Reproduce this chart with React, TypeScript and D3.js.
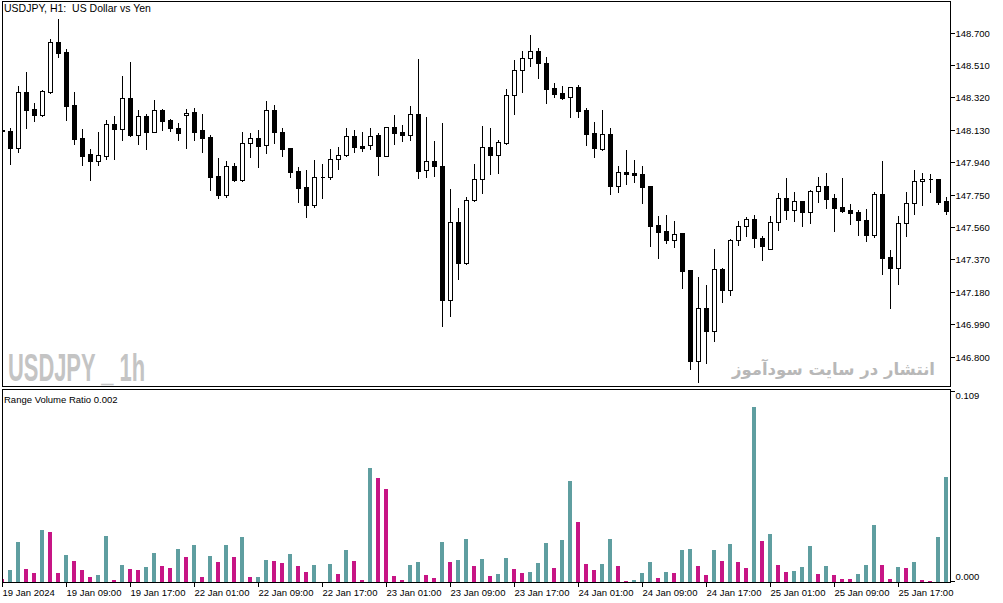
import * as d3 from "d3";

// USDJPY H1, 19 Jan 2024 01:00 .. 25 Jan 2024 23:00 (first bar is cut by the frame)
const opens = [
  148.132, 148.124, 148.026, 148.352, 148.253, 148.219, 148.354, 148.644, 148.587, 148.274,
  148.083, 147.987, 147.949, 147.979, 148.163, 148.137, 148.315, 148.102, 148.21, 148.12,
  148.245, 148.186, 148.139, 148.216, 148.233, 148.128, 148.087, 147.858, 147.75, 147.917,
  147.838, 148.051, 148.081, 148.04, 148.245, 148.116, 148.024, 147.889, 147.793, 147.691,
  147.852, 147.852, 147.958, 147.985, 148.093, 148.036, 148.04, 148.098, 147.979, 148.145,
  148.118, 148.102, 148.222, 147.893, 147.946, 147.917, 147.131, 147.588, 147.351, 147.717,
  147.84, 148.028, 147.985, 148.055, 148.333, 148.48, 148.55, 148.591, 148.521, 148.374,
  148.345, 148.321, 148.38, 148.245, 148.11, 148.016, 148.104, 147.803, 147.881, 147.876,
  147.87, 147.801, 147.572, 147.537, 147.486, 147.525, 147.31, 146.777, 147.084, 146.953,
  147.313, 147.193, 147.483, 147.565, 147.606, 147.494, 147.433, 147.588, 147.729, 147.662,
  147.711, 147.65, 147.77, 147.801, 147.729, 147.676, 147.66, 147.649, 147.6, 147.515,
  147.756, 147.383, 147.322, 147.582, 147.7, 147.829, 147.84, 147.84, 147.711,
];
const highs = [
  148.147, 148.145, 148.393, 148.475, 148.294, 148.368, 148.667, 148.786, 148.61, 148.358,
  148.143, 148.026, 148.124, 148.194, 148.217, 148.452, 148.534, 148.253, 148.227, 148.31,
  148.258, 148.202, 148.176, 148.258, 148.264, 148.229, 148.106, 147.971, 147.952, 147.942,
  148.124, 148.118, 148.135, 148.305, 148.282, 148.147, 148.03, 147.918, 147.901, 147.959,
  147.936, 148.024, 148.036, 148.147, 148.135, 148.124, 148.147, 148.116, 148.151, 148.223,
  148.165, 148.276, 148.552, 148.212, 148.071, 148.176, 147.789, 147.678, 147.742, 147.936,
  148.159, 148.145, 148.077, 148.374, 148.544, 148.597, 148.692, 148.614, 148.563, 148.411,
  148.393, 148.382, 148.397, 148.263, 148.18, 148.253, 148.145, 147.924, 148.018, 147.959,
  147.924, 147.803, 147.631, 147.637, 147.6, 147.527, 147.312, 147.272, 147.226, 147.436,
  147.324, 147.494, 147.6, 147.623, 147.637, 147.515, 147.629, 147.764, 147.854, 147.77,
  147.717, 147.782, 147.86, 147.883, 147.758, 147.854, 147.703, 147.666, 147.674, 147.774,
  147.954, 147.433, 147.629, 147.77, 147.901, 147.881, 147.877, 147.842, 147.742,
];
const lows = [
  148.112, 147.93, 148.002, 148.143, 148.184, 148.213, 148.348, 148.559, 148.19, 148.049,
  147.926, 147.836, 147.926, 147.961, 147.961, 148.073, 148.094, 148.049, 148.018, 148.118,
  148.129, 148.124, 148.071, 148.026, 148.071, 148.002, 147.778, 147.732, 147.738, 147.832,
  147.832, 147.971, 147.912, 147.995, 148.053, 147.977, 147.856, 147.709, 147.621, 147.68,
  147.732, 147.844, 147.903, 147.979, 148.002, 148.008, 148.02, 147.867, 147.977, 148.049,
  148.067, 148.073, 147.85, 147.856, 147.861, 146.982, 147.041, 147.257, 147.345, 147.715,
  147.762, 147.873, 147.879, 148.049, 148.223, 148.354, 148.506, 148.436, 148.29, 148.325,
  148.313, 148.207, 148.207, 148.043, 147.973, 148.01, 147.752, 147.768, 147.815, 147.826,
  147.703, 147.451, 147.381, 147.469, 147.445, 147.205, 146.728, 146.653, 146.765, 146.894,
  147.123, 147.162, 147.457, 147.51, 147.445, 147.369, 147.431, 147.545, 147.609, 147.598,
  147.568, 147.586, 147.709, 147.674, 147.539, 147.65, 147.58, 147.515, 147.477, 147.504,
  147.287, 147.087, 147.228, 147.51, 147.635, 147.691, 147.768, 147.694, 147.639,
];
const closes = [
  148.124, 148.026, 148.352, 148.248, 148.219, 148.358, 148.644, 148.583, 148.272, 148.078,
  147.979, 147.949, 147.981, 148.163, 148.137, 148.315, 148.098, 148.21, 148.12, 148.245,
  148.184, 148.139, 148.114, 148.229, 148.12, 148.084, 147.856, 147.75, 147.917, 147.838,
  148.051, 148.081, 148.037, 148.245, 148.116, 148.02, 147.885, 147.791, 147.691, 147.852,
  147.852, 147.958, 147.981, 148.093, 148.032, 148.026, 148.093, 147.979, 148.145, 148.114,
  148.102, 148.222, 147.891, 147.946, 147.92, 147.134, 147.588, 147.351, 147.717, 147.84,
  148.028, 147.985, 148.057, 148.333, 148.48, 148.55, 148.591, 148.521, 148.372, 148.342,
  148.319, 148.38, 148.243, 148.108, 148.022, 148.104, 147.803, 147.881, 147.873, 147.867,
  147.797, 147.568, 147.533, 147.486, 147.518, 147.304, 146.777, 147.084, 146.953, 147.313,
  147.193, 147.483, 147.565, 147.606, 147.498, 147.451, 147.588, 147.729, 147.662, 147.711,
  147.65, 147.77, 147.801, 147.727, 147.674, 147.656, 147.645, 147.6, 147.515, 147.752,
  147.381, 147.322, 147.582, 147.7, 147.829, 147.84, 147.84, 147.709, 147.656,
];

// Range Volume Ratio histogram
const ratios = [
  0.0019, 0.007, 0.023, 0.0076, 0.0053, 0.0299, 0.0287, 0.0053, 0.0156, 0.0122,
  0.007, 0.003, 0.0042, 0.0264, 0.0013, 0.0099, 0.0076, 0.007, 0.0087, 0.0167,
  0.0093, 0.0082, 0.019, 0.0145, 0.0213, 0.003, 0.015, 0.0116, 0.0213, 0.0145,
  0.0259, 0.003, 0.0031, 0.0127, 0.0122, 0.011, 0.0162, 0.0093, 0.0059, 0.0099,
  0.0, 0.0105, 0.0048, 0.0185, 0.0122, 0.0013, 0.0652, 0.0595, 0.0533, 0.0036,
  0.0013, 0.0099, 0.0116, 0.0042, 0.0025, 0.023, 0.0116, 0.0127, 0.0247, 0.0093,
  0.0133, 0.0036, 0.0048, 0.0139, 0.0076, 0.0053, 0.0059, 0.011, 0.0224, 0.0082,
  0.0242, 0.0578, 0.0344, 0.0105, 0.007, 0.0105, 0.0247, 0.0093, 0.0008, 0.0009,
  0.0049, 0.0116, 0.0025, 0.0059, 0.0049, 0.0185, 0.0186, 0.0093, 0.0042, 0.0185,
  0.0122, 0.0219, 0.0116, 0.0082, 0.1001, 0.0236, 0.0276, 0.0099, 0.0059, 0.0065,
  0.0087, 0.0207, 0.0048, 0.0093, 0.0042, 0.0019, 0.0018, 0.0048, 0.0099, 0.0327,
  0.0099, 0.0019, 0.0087, 0.0082, 0.0116, 0.0013, 0.0008, 0.0259, 0.0601,
];

const timeLabels = [
  "19 Jan 2024", "19 Jan 09:00", "19 Jan 17:00", "22 Jan 01:00", "22 Jan 09:00",
  "22 Jan 17:00", "23 Jan 01:00", "23 Jan 09:00", "23 Jan 17:00", "24 Jan 01:00",
  "24 Jan 09:00", "24 Jan 17:00", "25 Jan 01:00", "25 Jan 09:00", "25 Jan 17:00",
];
const barsPerTimeLabel = 8;
const priceTicks = [148.7, 148.51, 148.32, 148.13, 147.94, 147.75, 147.56, 147.37, 147.18, 146.99, 146.8];
const ratioTicks = [0.109, 0.0];

const UP_COLOR = "#5F9EA0";
const DOWN_COLOR = "#C71585";
const FONT = "'Liberation Sans', Arial, sans-serif";

export default function App() {
  const width = 1003;
  const height = 603;
  const left = 2.5;
  const right = 950.5;
  const priceTop = 1.5;
  const priceBottom = 386.5;
  const volTop = 389.5;
  const volBottom = 582.5;

  const n = opens.length;
  const x = d3.scaleLinear().domain([0, n - 1]).range([2.3, 2.3 + 8 * (n - 1)]);
  const y = d3.scaleLinear().domain([146.8, 148.7]).range([356.7, 32.7]);
  const yr = d3.scaleLinear().domain([0, 0.109]).range([582, 391]);
  const snap = (v: number) => Math.round(v) + 0.5;

  const candles = d3.range(n).map((i) => {
    const yo = snap(y(opens[i]));
    const yc = snap(y(closes[i]));
    return {
      i,
      px: Math.floor(x(i)),
      bull: closes[i] >= opens[i],
      top: Math.min(yo, yc),
      bottom: Math.max(yo, yc),
      yh: snap(y(highs[i])),
      yl: snap(y(lows[i])),
    };
  });

  return (
    <svg
      width={width}
      height={height}
      style={{ position: "absolute", left: 0, top: 0, background: "#fff" }}
      fontFamily={FONT}
    >
      <defs>
        <clipPath id="pricePane">
          <rect x={left} y={priceTop} width={right - left} height={priceBottom - priceTop} />
        </clipPath>
        <clipPath id="volPane">
          <rect x={left} y={volTop} width={right - left} height={volBottom - volTop} />
        </clipPath>
      </defs>
      <rect width={width} height={height} fill="#fff" />

      {/* watermarks */}
      <text
        x={8}
        y={381}
        fontSize={38}
        fontWeight="bold"
        fill="#c4c4c4"
        textLength={137}
        lengthAdjust="spacingAndGlyphs"
        fontFamily="'Liberation Sans Narrow', 'Liberation Sans', sans-serif"
      >
        USDJPY _ 1h
      </text>
      <text
        x={935}
        y={375}
        fontSize={16.5}
        fontWeight="bold"
        fill="#b8b8b8"
        textAnchor="end"
        fontFamily="'DejaVu Sans', sans-serif"
      >
        انتشار در سایت سودآموز
      </text>

      {/* candles */}
      <g clipPath="url(#pricePane)" shapeRendering="crispEdges">
        {candles.map((c) => {
          const wx = c.px + 0.5;
          const x0 = wx - 2;
          const x1 = wx + 2;
          return (
            <g key={c.i}>
              <line x1={wx} x2={wx} y1={c.yh} y2={c.yl} stroke="#000" strokeWidth={1} />
              <path
                d={`M${x0},${c.top}H${x1}V${c.bottom}H${x0}Z`}
                fill={c.bull ? "#fff" : "#000"}
                stroke="#000"
                strokeWidth={1}
              />
            </g>
          );
        })}
      </g>

      {/* ratio histogram */}
      <g clipPath="url(#volPane)" shapeRendering="crispEdges">
        {ratios.map((v, i) => {
          if (v <= 0) return null;
          const rising = i === 0 ? false : v > ratios[i - 1];
          const top = Math.round(yr(v));
          return (
            <rect
              key={i}
              x={Math.floor(x(i)) - 2}
              y={top}
              width={4}
              height={582 - top}
              fill={rising ? UP_COLOR : DOWN_COLOR}
            />
          );
        })}
      </g>

      {/* frames */}
      <g fill="none" stroke="#000" strokeWidth={1} shapeRendering="crispEdges">
        <rect x={left} y={priceTop} width={right - left} height={priceBottom - priceTop} />
        <rect x={left} y={volTop} width={right - left} height={volBottom - volTop} />
      </g>

      {/* price axis */}
      <g shapeRendering="crispEdges">
        {priceTicks.map((p) => {
          const ty = snap(y(p));
          return (
            <g key={p}>
              <line x1={right} x2={right + 4} y1={ty} y2={ty} stroke="#000" />
              <text x={right + 5} y={ty + 3.5} fontSize={9.5} fill="#000">
                {p.toFixed(3)}
              </text>
            </g>
          );
        })}
      </g>

      {/* ratio axis */}
      <g shapeRendering="crispEdges">
        {ratioTicks.map((v, k) => {
          const ty = snap(yr(v)) - (k === ratioTicks.length - 1 ? 1 : 0);
          return (
            <g key={v}>
              <line x1={right} x2={right + 4} y1={ty} y2={ty} stroke="#000" />
              <text x={right + 5} y={k === 0 ? ty + 7 : ty - 2} fontSize={9.5} fill="#000">
                {v.toFixed(3)}
              </text>
            </g>
          );
        })}
      </g>

      {/* time axis */}
      <g shapeRendering="crispEdges">
        {timeLabels.map((label, k) => {
          const tx = Math.floor(x(k * barsPerTimeLabel)) + 0.5;
          return (
            <g key={label}>
              <line x1={tx} x2={tx} y1={volBottom} y2={volBottom + 4} stroke="#000" />
              <text x={tx} y={595.5} fontSize={9.5} fill="#000">
                {label}
              </text>
            </g>
          );
        })}
      </g>

      {/* titles */}
      <text x={4} y={12} fontSize={10.5} fill="#000" style={{ whiteSpace: "pre" }}>
        {"USDJPY, H1:  US Dollar vs Yen"}
      </text>
      <text x={4} y={402.5} fontSize={9.5} fill="#000">
        Range Volume Ratio 0.002
      </text>
    </svg>
  );
}
